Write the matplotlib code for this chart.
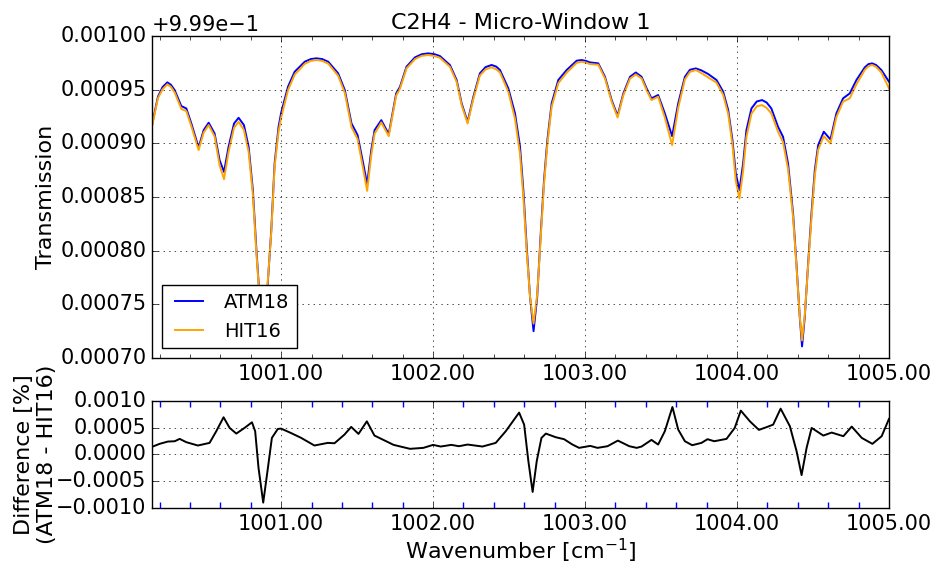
import matplotlib
matplotlib.use('Agg')
import matplotlib.pyplot as plt
from matplotlib.ticker import MultipleLocator, FuncFormatter

plt.style.use('classic')
plt.rcParams['mathtext.fontset'] = 'dejavusans'
plt.rcParams['figure.facecolor'] = 'white'
plt.rcParams['savefig.facecolor'] = 'white'
plt.rcParams['xtick.labelsize'] = 15
plt.rcParams['ytick.labelsize'] = 15

# Transmission spectra
wavenumber = [
    1000.150, 1000.189, 1000.220, 1000.251, 1000.275, 1000.299, 1000.343, 1000.376,
    1000.409, 1000.457, 1000.490, 1000.523, 1000.562, 1000.595, 1000.624, 1000.654,
    1000.690, 1000.720, 1000.755, 1000.786, 1000.814, 1000.836, 1000.858, 1000.882,
    1000.906, 1000.935, 1000.957, 1000.983, 1001.000, 1001.045, 1001.089, 1001.155,
    1001.195, 1001.232, 1001.270, 1001.310, 1001.375, 1001.419, 1001.463, 1001.503,
    1001.540, 1001.566, 1001.593, 1001.615, 1001.659, 1001.708, 1001.757, 1001.782,
    1001.825, 1001.881, 1001.925, 1001.968, 1002.010, 1002.045, 1002.111, 1002.155,
    1002.188, 1002.227, 1002.265, 1002.308, 1002.345, 1002.385, 1002.415, 1002.440,
    1002.495, 1002.539, 1002.572, 1002.594, 1002.616, 1002.638, 1002.661, 1002.685,
    1002.707, 1002.730, 1002.752, 1002.780, 1002.824, 1002.879, 1002.945, 1002.977,
    1003.005, 1003.032, 1003.087, 1003.131, 1003.175, 1003.214, 1003.252, 1003.296,
    1003.334, 1003.372, 1003.405, 1003.437, 1003.481, 1003.525, 1003.573, 1003.613,
    1003.657, 1003.690, 1003.729, 1003.765, 1003.810, 1003.865, 1003.909, 1003.942,
    1003.970, 1003.992, 1004.016, 1004.040, 1004.062, 1004.095, 1004.130, 1004.165,
    1004.195, 1004.226, 1004.270, 1004.303, 1004.336, 1004.369, 1004.391, 1004.413,
    1004.428, 1004.446, 1004.468, 1004.490, 1004.512, 1004.534, 1004.571, 1004.615,
    1004.654, 1004.698, 1004.742, 1004.786, 1004.841, 1004.865, 1004.889, 1004.915,
    1004.950, 1005.000,
]
atm18 = [
    0.9999170, 0.9999434, 0.9999525, 0.9999568, 0.9999545, 0.9999496, 0.9999347, 0.9999325,
    0.9999185, 0.9998961, 0.9999123, 0.9999192, 0.9999092, 0.9998843, 0.9998734, 0.9998968,
    0.9999185, 0.9999238, 0.9999170, 0.9998968, 0.9998563, 0.9998035, 0.9997568, 0.9997220,
    0.9997568, 0.9998190, 0.9998812, 0.9999154, 0.9999285, 0.9999527, 0.9999667, 0.9999760,
    0.9999785, 0.9999792, 0.9999785, 0.9999760, 0.9999652, 0.9999496, 0.9999185, 0.9999077,
    0.9998812, 0.9998620, 0.9998937, 0.9999123, 0.9999216, 0.9999086, 0.9999465, 0.9999527,
    0.9999714, 0.9999801, 0.9999830, 0.9999838, 0.9999830, 0.9999813, 0.9999729, 0.9999590,
    0.9999372, 0.9999200, 0.9999434, 0.9999652, 0.9999710, 0.9999730, 0.9999715, 0.9999683,
    0.9999512, 0.9999279, 0.9998968, 0.9998563, 0.9998035, 0.9997568, 0.9997250, 0.9997568,
    0.9998128, 0.9998657, 0.9999030, 0.9999372, 0.9999590, 0.9999683, 0.9999770, 0.9999776,
    0.9999768, 0.9999754, 0.9999745, 0.9999620, 0.9999403, 0.9999257, 0.9999465, 0.9999620,
    0.9999660, 0.9999620, 0.9999512, 0.9999419, 0.9999450, 0.9999279, 0.9999067, 0.9999372,
    0.9999620, 0.9999685, 0.9999698, 0.9999680, 0.9999646, 0.9999590, 0.9999481, 0.9999310,
    0.9999030, 0.9998719, 0.9998563, 0.9998812, 0.9999123, 0.9999325, 0.9999390, 0.9999403,
    0.9999380, 0.9999325, 0.9999154, 0.9999061, 0.9998812, 0.9998346, 0.9997879, 0.9997382,
    0.9997108, 0.9997382, 0.9997879, 0.9998346, 0.9998750, 0.9998983, 0.9999108, 0.9999036,
    0.9999279, 0.9999419, 0.9999465, 0.9999590, 0.9999708, 0.9999738, 0.9999745, 0.9999730,
    0.9999683, 0.9999574,
]
hit16 = [
    0.9999155, 0.9999420, 0.9999505, 0.9999550, 0.9999525, 0.9999475, 0.9999320, 0.9999300,
    0.9999160, 0.9998937, 0.9999100, 0.9999170, 0.9999065, 0.9998795, 0.9998666, 0.9998920,
    0.9999145, 0.9999200, 0.9999125, 0.9998920, 0.9998520, 0.9998000, 0.9997560, 0.9997310,
    0.9997600, 0.9998170, 0.9998780, 0.9999110, 0.9999240, 0.9999495, 0.9999640, 0.9999740,
    0.9999768, 0.9999776, 0.9999768, 0.9999742, 0.9999630, 0.9999470, 0.9999150, 0.9999040,
    0.9998760, 0.9998557, 0.9998890, 0.9999090, 0.9999195, 0.9999067, 0.9999445, 0.9999510,
    0.9999698, 0.9999785, 0.9999815, 0.9999823, 0.9999813, 0.9999797, 0.9999712, 0.9999572,
    0.9999355, 0.9999185, 0.9999415, 0.9999632, 0.9999688, 0.9999708, 0.9999690, 0.9999660,
    0.9999480, 0.9999230, 0.9998900, 0.9998500, 0.9997990, 0.9997570, 0.9997320, 0.9997590,
    0.9998100, 0.9998620, 0.9998990, 0.9999340, 0.9999560, 0.9999658, 0.9999750, 0.9999760,
    0.9999752, 0.9999738, 0.9999732, 0.9999605, 0.9999388, 0.9999241, 0.9999448, 0.9999603,
    0.9999642, 0.9999605, 0.9999495, 0.9999403, 0.9999434, 0.9999240, 0.9998983, 0.9999330,
    0.9999595, 0.9999665, 0.9999683, 0.9999655, 0.9999614, 0.9999565, 0.9999452, 0.9999275,
    0.9998985, 0.9998650, 0.9998486, 0.9998740, 0.9999060, 0.9999275, 0.9999345, 0.9999356,
    0.9999330, 0.9999278, 0.9999108, 0.9999010, 0.9998760, 0.9998310, 0.9997860, 0.9997390,
    0.9997164, 0.9997400, 0.9997860, 0.9998300, 0.9998700, 0.9998940, 0.9999067, 0.9998999,
    0.9999245, 0.9999388, 0.9999419, 0.9999550, 0.9999685, 0.9999718, 0.9999730, 0.9999712,
    0.9999660, 0.9999512,
]

# Relative difference ATM18 - HIT16 in percent
diff_wavenumber = [
    1000.150, 1000.200, 1000.255, 1000.300, 1000.332, 1000.376, 1000.452, 1000.529,
    1000.573, 1000.621, 1000.661, 1000.705, 1000.759, 1000.808, 1000.829, 1000.851,
    1000.882, 1000.913, 1000.939, 1000.978, 1001.000, 1001.066, 1001.132, 1001.219,
    1001.307, 1001.351, 1001.417, 1001.461, 1001.509, 1001.564, 1001.614, 1001.691,
    1001.740, 1001.848, 1001.936, 1002.000, 1002.050, 1002.120, 1002.170, 1002.227,
    1002.325, 1002.412, 1002.478, 1002.566, 1002.599, 1002.627, 1002.655, 1002.682,
    1002.713, 1002.742, 1002.807, 1002.862, 1002.917, 1002.961, 1003.034, 1003.082,
    1003.148, 1003.216, 1003.291, 1003.340, 1003.372, 1003.437, 1003.481, 1003.525,
    1003.575, 1003.613, 1003.657, 1003.705, 1003.766, 1003.806, 1003.850, 1003.931,
    1003.985, 1004.025, 1004.085, 1004.144, 1004.205, 1004.238, 1004.287, 1004.348,
    1004.392, 1004.425, 1004.458, 1004.491, 1004.568, 1004.623, 1004.700, 1004.755,
    1004.821, 1004.891, 1004.952, 1005.000,
]
diff_percent = [
    1.43e-4, 1.99e-4, 2.42e-4, 2.48e-4, 2.92e-4, 2.30e-4, 1.68e-4, 2.17e-4,
    4.35e-4, 6.96e-4, 4.97e-4, 3.91e-4, 4.97e-4, 6.02e-4, 4.35e-4, -2.48e-4,
    -9.00e-4, -2.48e-4, 3.10e-4, 4.78e-4, 4.84e-4, 4.00e-4, 3.10e-4, 1.68e-4,
    2.17e-4, 2.10e-4, 3.73e-4, 5.16e-4, 3.85e-4, 6.20e-4, 3.54e-4, 2.48e-4,
    1.80e-4, 1.06e-4, 1.24e-4, 1.80e-4, 1.49e-4, 1.80e-4, 1.55e-4, 1.86e-4,
    1.49e-4, 2.17e-4, 4.35e-4, 7.83e-4, 5.59e-4, -1.24e-4, -7.00e-4, -1.24e-4,
    3.10e-4, 3.91e-4, 3.23e-4, 2.86e-4, 1.86e-4, 1.24e-4, 1.61e-4, 1.24e-4,
    1.55e-4, 2.60e-4, 1.55e-4, 1.24e-4, 1.49e-4, 2.73e-4, 1.86e-4, 4.35e-4,
    8.88e-4, 4.66e-4, 2.48e-4, 1.74e-4, 2.17e-4, 2.86e-4, 2.48e-4, 2.92e-4,
    4.97e-4, 8.20e-4, 6.20e-4, 4.60e-4, 5.22e-4, 5.59e-4, 8.57e-4, 5.28e-4,
    0.62e-4, -3.85e-4, 1.24e-4, 4.97e-4, 3.54e-4, 4.10e-4, 3.42e-4, 5.22e-4,
    3.10e-4, 1.99e-4, 3.42e-4, 6.65e-4,
]

offset = 0.999

fig = plt.figure(figsize=(9.33, 5.64), dpi=100)
ax1 = fig.add_axes([0.1629, 0.3652, 0.7899, 0.5710])
ax2 = fig.add_axes([0.1629, 0.0993, 0.7899, 0.1897])

# Top panel: transmission
ax1.plot(wavenumber, atm18, color='b', lw=1.4, label='ATM18')
ax1.plot(wavenumber, hit16, color='orange', lw=1.4, label='HIT16')
ax1.set_xlim(1000.15, 1005.0)
ax1.set_ylim(0.9997, 1.0)
ax1.xaxis.set_major_locator(MultipleLocator(1.0))
ax1.xaxis.set_minor_locator(MultipleLocator(0.2))
ax1.xaxis.set_major_formatter(FuncFormatter(lambda v, p: '%.2f' % v))
ax1.yaxis.set_major_locator(MultipleLocator(0.00005))
ax1.yaxis.set_major_formatter(FuncFormatter(lambda v, p: '%.5f' % (v - offset)))
ax1.tick_params(which='minor', length=3)
ax1.text(0.0, 1.003, '+9.99e\u22121', transform=ax1.transAxes,
         ha='left', va='bottom', fontsize=15)
ax1.set_title('C2H4 - Micro-Window 1', fontsize=16)
ax1.set_ylabel('Transmission', fontsize=16, labelpad=3)
ax1.grid(True)
ax1.legend(loc='lower left', fontsize=14)

# Bottom panel: difference
ax2.plot(diff_wavenumber, diff_percent, color='k', lw=1.4)
ax2.set_xlim(1000.15, 1005.0)
ax2.set_ylim(-0.001, 0.001)
ax2.xaxis.set_major_locator(MultipleLocator(1.0))
ax2.xaxis.set_minor_locator(MultipleLocator(0.2))
ax2.xaxis.set_major_formatter(FuncFormatter(lambda v, p: '%.2f' % v))
ax2.yaxis.set_major_locator(MultipleLocator(0.0005))
ax2.yaxis.set_major_formatter(
    FuncFormatter(lambda v, p: ('%.4f' % (v + 0.0)).replace('-', '\u2212')))
ax2.tick_params(axis='x', which='minor', color='b', length=4.5, width=1)
ax2.set_xlabel('Wavenumber [cm$^{-1}$]', fontsize=16, labelpad=2)
ax2.set_ylabel('Difference [%]\n(ATM18 - HIT16)', fontsize=16, labelpad=-1)
ax2.grid(True)

fig.savefig('out.png', dpi=100)
